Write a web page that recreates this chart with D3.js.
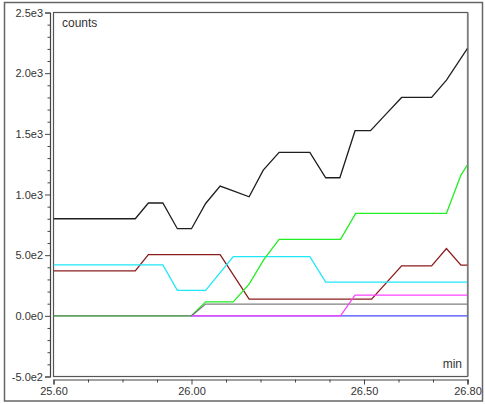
<!DOCTYPE html>
<html>
<head>
<meta charset="utf-8">
<script src="https://cdn.jsdelivr.net/npm/d3@7"></script>
<style>
  html, body { margin: 0; padding: 0; background: #fff; }
  svg { display: block; }
  text { font-family: "Liberation Sans", Arial, sans-serif; font-size: 11px; fill: #333; }
</style>
</head>
<body>
<svg id="chart" width="485" height="404"></svg>
<script>
// ---- data ----
const xDomain = [25.60, 26.80];
const yDomain = [-500, 2500];
const xTickValues = [25.60, 26.00, 26.50, 26.80];
const xTickLabels = ["25.60", "26.00", "26.50", "26.80"];
const yTickValues = [2500, 2000, 1500, 1000, 500, 0, -500];
const yTickLabels = ["2.5e3", "2.0e3", "1.5e3", "1.0e3", "5.0e2", "0.0e0", "-5.0e2"];
const yAxisTitle = "counts";
const xAxisTitle = "min";

const blackTimes  = [25.600, 25.837, 25.875, 25.917, 25.959, 26.000, 26.041, 26.083, 26.121, 26.167, 26.208, 26.254, 26.343, 26.389, 26.430, 26.474, 26.519, 26.563, 26.609, 26.696, 26.739, 26.800];
const blackValues = [800, 800, 930, 930, 718, 718, 926, 1069, 1030, 981, 1201, 1347, 1347, 1138, 1138, 1526, 1526, 1660, 1800, 1800, 1943, 2204];

const maroonTimes  = [25.600, 25.837, 25.875, 26.083, 26.167, 26.522, 26.609, 26.696, 26.739, 26.781, 26.800];
const maroonValues = [370, 370, 505, 505, 138, 138, 412, 412, 555, 418, 418];

const cyanTimes  = [25.600, 25.917, 25.959, 26.041, 26.121, 26.343, 26.389, 26.800];
const cyanValues = [420, 420, 210, 210, 488, 488, 278, 278];

const greenTimes  = [25.600, 26.000, 26.041, 26.121, 26.167, 26.210, 26.254, 26.432, 26.476, 26.739, 26.781, 26.800];
const greenValues = [0, 0, 115, 115, 261, 465, 630, 630, 845, 845, 1160, 1245];

const grayTimes  = [25.600, 26.000, 26.041, 26.800];
const grayValues = [0, 0, 97, 97];

const blueTimes  = [26.000, 26.800];
const blueValues = [0, 0];

const magentaTimes  = [26.000, 26.432, 26.474, 26.800];
const magentaValues = [0, 0, 170, 170];

// ---- layout ----
const svg = d3.select("#chart");
const plot = { left: 53.5, right: 467.5, top: 12.5, bottom: 376.5 };

const x = d3.scaleLinear().domain(xDomain).range([plot.left, plot.right]);
const y = d3.scaleLinear().domain(yDomain).range([plot.bottom, plot.top]);

// outer frame
svg.append("rect")
  .attr("x", 4.5).attr("y", 2.5).attr("width", 478).attr("height", 398.5)
  .attr("fill", "none").attr("stroke", "#666").attr("stroke-width", 1.5);

// plot box
svg.append("rect")
  .attr("x", plot.left).attr("y", plot.top)
  .attr("width", plot.right - plot.left).attr("height", plot.bottom - plot.top)
  .attr("fill", "#fff").attr("stroke", "#555").attr("stroke-width", 1.2);
svg.append("line")
  .attr("x1", plot.right + 0.5).attr("x2", plot.right + 0.5)
  .attr("y1", plot.top).attr("y2", plot.bottom)
  .attr("stroke", "#888").attr("stroke-width", 1.5);

// Y axis (offset to the left of the plot box)
const yAxisX = 50;
const yMinor = d3.range(-500, 2501, 100).filter(v => v % 500 !== 0);
const yAxisMajor = d3.axisLeft(y).tickValues(yTickValues)
  .tickFormat((d, i) => yTickLabels[i]).tickSize(5).tickPadding(2);
const gY = svg.append("g").attr("transform", `translate(${yAxisX},0)`).call(yAxisMajor);
gY.select(".domain").attr("stroke", "#444").attr("stroke-width", 1.2);
gY.selectAll(".tick line").attr("stroke", "#444");
gY.selectAll("text").style("font-size", "11px").attr("fill", "#333");
const gYm = svg.append("g").attr("transform", `translate(${yAxisX},0)`)
  .call(d3.axisLeft(y).tickValues(yMinor).tickSize(2.5).tickFormat(""));
gYm.select(".domain").remove();
gYm.selectAll(".tick line").attr("stroke", "#444");

// X axis (offset below the plot box)
const xAxisY = 379.5;
const xMinor = d3.range(25.7, 26.8, 0.1).filter(v => Math.abs(v - 26.0) > 1e-6 && Math.abs(v - 26.5) > 1e-6);
const gX = svg.append("g").attr("transform", `translate(0,${xAxisY})`)
  .call(d3.axisBottom(x).tickValues(xTickValues)
    .tickFormat((d, i) => xTickLabels[i]).tickSize(5).tickPadding(3));
gX.select(".domain").attr("stroke", "#444").attr("stroke-width", 1.2);
gX.selectAll(".tick line").attr("stroke", "#444");
gX.selectAll("text").style("font-size", "11px").attr("fill", "#333");
const gXm = svg.append("g").attr("transform", `translate(0,${xAxisY})`)
  .call(d3.axisBottom(x).tickValues(xMinor).tickSize(3).tickFormat(""));
gXm.select(".domain").remove();
gXm.selectAll(".tick line").attr("stroke", "#444");

// axis titles
svg.append("text").attr("x", 62).attr("y", 27).text(yAxisTitle).style("font-size", "12px");
svg.append("text").attr("x", 462).attr("y", 368).attr("text-anchor", "end").text(xAxisTitle).style("font-size", "12px");

// series
const line = d3.line().x(d => x(d[0])).y(d => y(d[1]));
const series = [
  { t: blackTimes,   v: blackValues,   color: "#1e1e1e", op: 1 },
  { t: maroonTimes,  v: maroonValues,  color: "#8b1c1c", op: 1 },
  { t: cyanTimes,    v: cyanValues,    color: "#1ee8f8", op: 1 },
  { t: greenTimes,   v: greenValues,   color: "#22ee22", op: 1 },
  { t: grayTimes,    v: grayValues,    color: "#707070", op: 0.89 },
  { t: blueTimes,    v: blueValues,    color: "#4a4aff", op: 1 },
  { t: magentaTimes, v: magentaValues, color: "#ff44ff", op: 1 }
];
const clip = svg.append("clipPath").attr("id", "clip").append("rect")
  .attr("x", plot.left).attr("y", plot.top)
  .attr("width", plot.right - plot.left).attr("height", plot.bottom - plot.top);
const gLines = svg.append("g").attr("clip-path", "url(#clip)");
series.forEach(s => {
  gLines.append("path")
    .datum(s.t.map((t, i) => [t, s.v[i]]))
    .attr("d", line)
    .attr("fill", "none")
    .attr("stroke", s.color)
    .attr("stroke-opacity", s.op)
    .attr("stroke-width", 1.3);
});
</script>
</body>
</html>
